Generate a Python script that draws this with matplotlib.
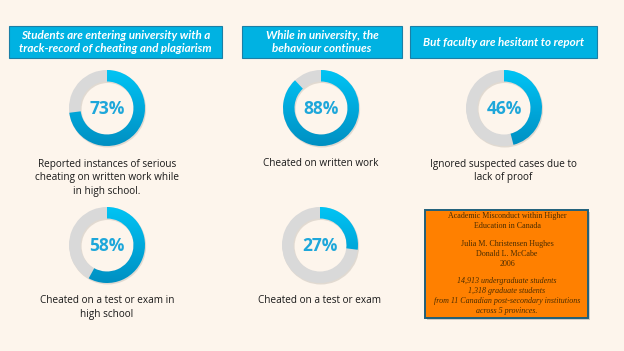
import numpy as np
import matplotlib
matplotlib.use("Agg")
import matplotlib.pyplot as plt
from matplotlib.patches import Wedge, Rectangle
from matplotlib.colors import LinearSegmentedColormap

# data
headers = ["Students are entering university with a\ntrack-record of cheating and plagiarism",
           "While in university, the\nbehaviour continues",
           "But faculty are hesitant to report"]
values = [73, 88, 46, 58, 27]
labels = ["Reported instances of serious\ncheating on written work while\nin high school.",
          "Cheated on written work",
          "Ignored suspected cases due to\nlack of proof",
          "Cheated on a test or exam in\nhigh school",
          "Cheated on a test or exam"]
source_lines = ["Academic Misconduct within Higher\nEducation in Canada",
                "Julia M. Christensen Hughes\nDonald L. McCabe\n2006",
                "14,913 undergraduate students\n1,318 graduate students\nfrom 11 Canadian post-secondary institutions\nacross 5 provinces."]

W, H = 624, 351
bg = "#FDF5EC"
fig = plt.figure(figsize=(W / 100, H / 100), dpi=100, facecolor=bg)
ax = fig.add_axes([0, 0, 1, 1])
ax.set_xlim(0, W)
ax.set_ylim(H, 0)
ax.set_aspect("equal")
ax.axis("off")

# header boxes (x0, x1) in pixels
hdr_x = [(9, 222), (242, 402), (410, 597)]
for (x0, x1), txt in zip(hdr_x, headers):
    ax.add_patch(Rectangle((x0, 26), x1 - x0, 32, facecolor="#00B2E2",
                           edgecolor="#1B7FA6", lw=0.8))
    ax.text((x0 + x1) / 2, 42, txt, ha="center", va="center", color="white",
            fontsize=8.4, fontstyle="italic", fontweight="bold", family="Lato",
            linespacing=1.2)

# donuts
centers = [(107, 108), (321, 108), (504, 108), (107, 245), (320, 245)]
label_x = [107, 321, 503, 107, 320]
label_y = [158.5, 158.5, 158.5, 295, 295]
R, w = 38, 11.5
cmap = LinearSegmentedColormap.from_list("b", ["#00C4F4", "#00A9DC", "#0090C2"])
grad = np.linspace(0, 1, 100).reshape(-1, 1)

for (cx, cy), v, lab, lx, ly in zip(centers, values, labels, label_x, label_y):
    # soft shadow
    ax.add_patch(Wedge((cx + 0.8, cy + 1.2), R + 0.3, 0, 360, width=w + 0.6,
                       facecolor="#cfc8c0", edgecolor="none", alpha=0.6))
    ax.add_patch(Wedge((cx, cy), R, 0, 360, width=w, facecolor="#D9D9D9",
                       edgecolor="none"))
    # inverted y axis: angles go clockwise on screen
    blue = Wedge((cx, cy), R, -90, -90 + 360 * v / 100, width=w,
                 facecolor="none", edgecolor="none")
    ax.add_patch(blue)
    im = ax.imshow(grad, cmap=cmap, extent=(cx - R, cx + R, cy + R, cy - R),
                   aspect="auto", interpolation="bilinear", zorder=2)
    im.set_clip_path(blue)
    ax.text(cx, cy + 1, f"{v}%", ha="center", va="center", color="#1EA7DA",
            fontsize=12.5, fontweight="bold", family="Open Sans", zorder=3)
    ax.text(lx, ly, lab, ha="center", va="top", color="#1a1a1a",
            fontsize=7.2, family="Open Sans", linespacing=1.35)

ax.set_xlim(0, W)
ax.set_ylim(H, 0)

# source box
ax.add_patch(Rectangle((427, 212), 163, 108, facecolor="#b8b0a8",
                       edgecolor="none", alpha=0.6))
ax.add_patch(Rectangle((425, 210), 163, 108, facecolor="#FF8000",
                       edgecolor="#1F5F7A", lw=1.4))
txt_kw = dict(ha="center", va="top", color="#4a2c00", fontsize=5.8,
              family="Liberation Serif", linespacing=1.32)
ax.text(507, 212, source_lines[0], **txt_kw)
ax.text(507, 240, source_lines[1], **txt_kw)
ax.text(507, 277, source_lines[2], fontstyle="italic", **txt_kw)

fig.savefig("out.png", dpi=100, facecolor=bg)
